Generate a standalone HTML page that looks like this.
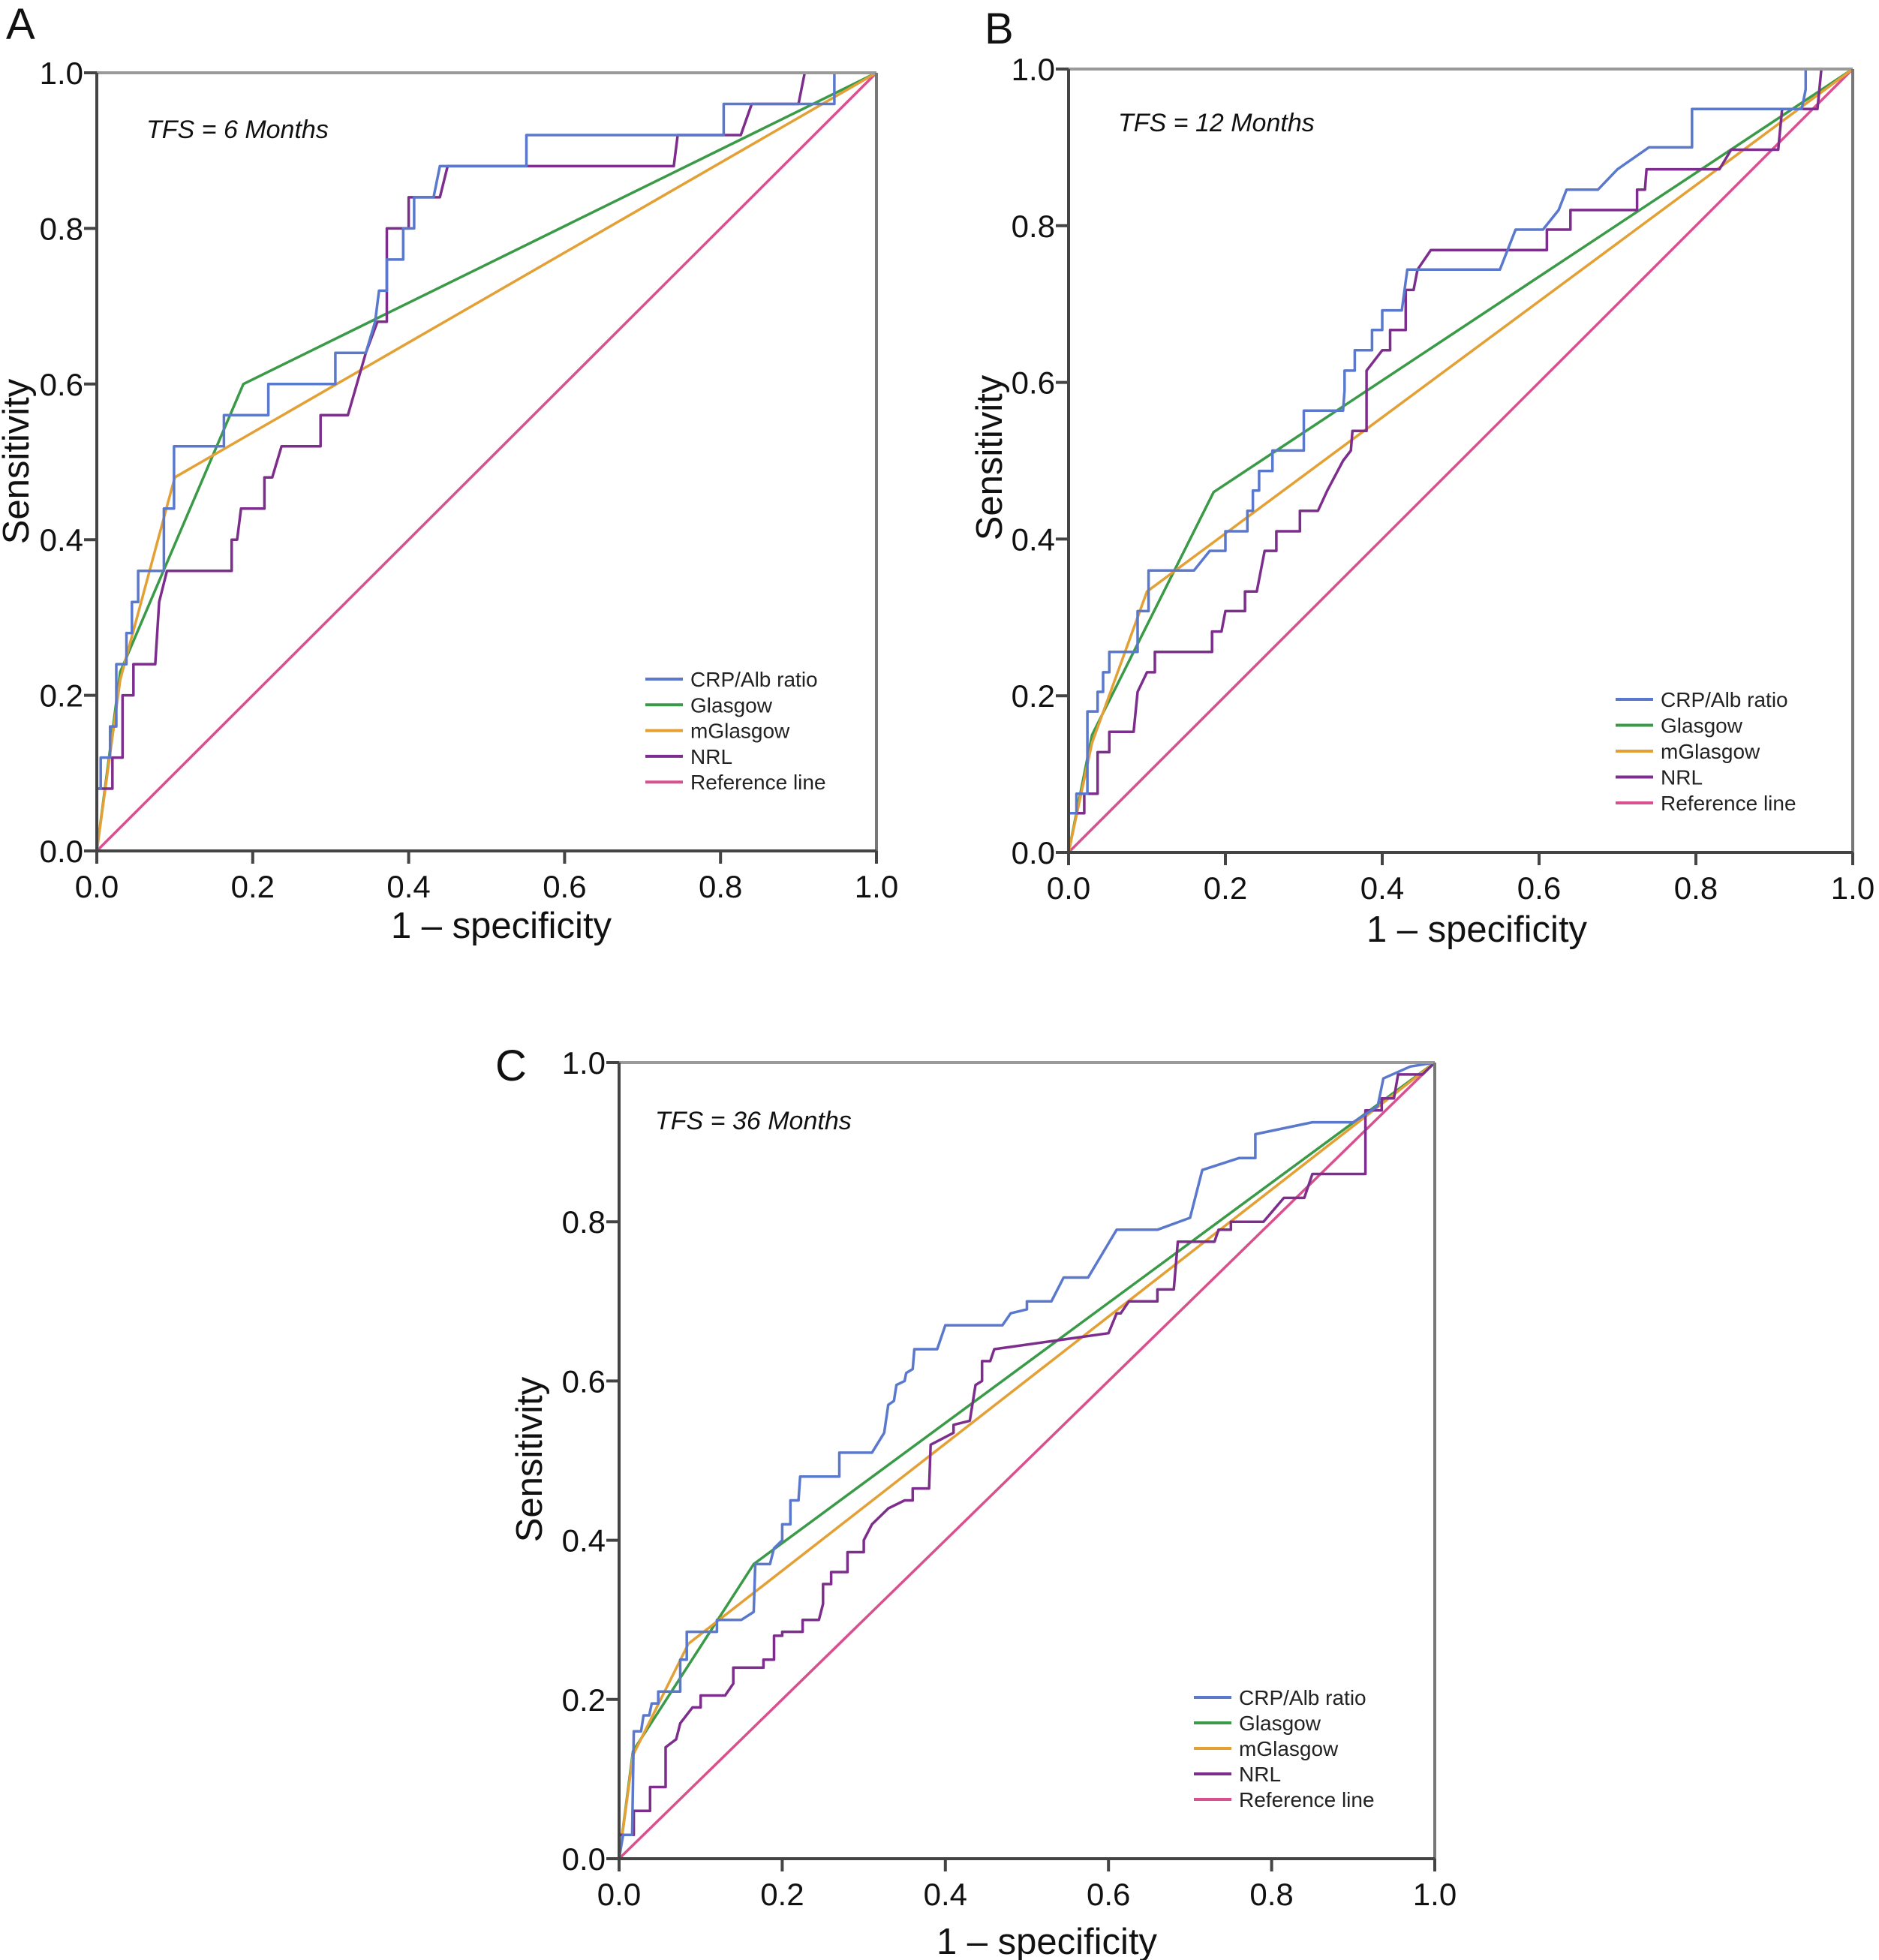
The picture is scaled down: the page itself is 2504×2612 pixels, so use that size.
<!DOCTYPE html>
<html><head><meta charset="utf-8"><style>
html,body{margin:0;padding:0;background:#fff;}
svg{display:block;font-family:"Liberation Sans",sans-serif;}
</style></head><body>
<svg id="fig" width="2504" height="2612" viewBox="0 0 2504 2612" xmlns="http://www.w3.org/2000/svg"></svg>
<script>
const ticks = [0, 0.2, 0.4, 0.6, 0.8, 1.0];
const tickLabels = ["0.0","0.2","0.4","0.6","0.8","1.0"];
const seriesNames = ["CRP/Alb ratio","Glasgow","mGlasgow","NRL","Reference line"];
const panelLabels = ["A","B","C"];
const panelTitles = ["TFS = 6 Months","TFS = 12 Months","TFS = 36 Months"];

const crpA = [[0,0],[0,0.08],[0.005,0.08],[0.005,0.12],[0.017,0.12],[0.017,0.16],[0.025,0.16],[0.025,0.24],[0.038,0.24],[0.038,0.28],[0.045,0.28],[0.045,0.32],[0.053,0.32],[0.053,0.36],[0.086,0.36],[0.086,0.44],[0.099,0.44],[0.099,0.52],[0.163,0.52],[0.163,0.56],[0.22,0.56],[0.22,0.6],[0.306,0.6],[0.306,0.64],[0.345,0.64],[0.357,0.68],[0.362,0.72],[0.372,0.72],[0.372,0.76],[0.393,0.76],[0.393,0.8],[0.407,0.8],[0.407,0.84],[0.432,0.84],[0.44,0.88],[0.551,0.88],[0.551,0.92],[0.804,0.92],[0.804,0.96],[0.946,0.96],[0.946,1],[1,1]];
const nrlA = [[0,0],[0,0.08],[0.02,0.08],[0.02,0.12],[0.033,0.12],[0.033,0.2],[0.047,0.2],[0.047,0.24],[0.075,0.24],[0.08,0.32],[0.09,0.36],[0.173,0.36],[0.173,0.4],[0.18,0.4],[0.185,0.44],[0.215,0.44],[0.215,0.48],[0.225,0.48],[0.237,0.52],[0.287,0.52],[0.287,0.56],[0.322,0.56],[0.345,0.64],[0.36,0.68],[0.372,0.68],[0.372,0.8],[0.4,0.8],[0.4,0.84],[0.44,0.84],[0.45,0.88],[0.74,0.88],[0.745,0.92],[0.826,0.92],[0.84,0.96],[0.9,0.96],[0.908,1],[1,1]];
const glasA = [[0,0],[0.03,0.23],[0.188,0.6],[1,1]];
const mglasA = [[0,0],[0.03,0.22],[0.1,0.48],[1,1]];

const crpB = [[0,0],[0,0.05],[0.01,0.05],[0.01,0.075],[0.024,0.075],[0.024,0.18],[0.037,0.18],[0.037,0.205],[0.044,0.205],[0.044,0.23],[0.052,0.23],[0.052,0.256],[0.088,0.256],[0.088,0.308],[0.102,0.308],[0.102,0.36],[0.16,0.36],[0.18,0.385],[0.2,0.385],[0.2,0.41],[0.228,0.41],[0.228,0.436],[0.235,0.436],[0.235,0.462],[0.243,0.462],[0.243,0.487],[0.26,0.487],[0.26,0.513],[0.3,0.513],[0.3,0.564],[0.35,0.564],[0.352,0.59],[0.352,0.615],[0.365,0.615],[0.365,0.641],[0.387,0.641],[0.387,0.667],[0.4,0.667],[0.4,0.692],[0.425,0.692],[0.432,0.744],[0.55,0.744],[0.57,0.795],[0.605,0.795],[0.625,0.82],[0.635,0.846],[0.675,0.846],[0.7,0.872],[0.74,0.9],[0.795,0.9],[0.795,0.949],[0.935,0.949],[0.94,0.974],[0.94,1],[1,1]];
const nrlB = [[0,0],[0,0.05],[0.02,0.05],[0.02,0.075],[0.037,0.075],[0.037,0.128],[0.052,0.128],[0.052,0.154],[0.083,0.154],[0.088,0.205],[0.1,0.23],[0.11,0.23],[0.11,0.256],[0.183,0.256],[0.183,0.282],[0.195,0.282],[0.2,0.308],[0.225,0.308],[0.225,0.333],[0.24,0.333],[0.25,0.385],[0.265,0.385],[0.265,0.41],[0.295,0.41],[0.295,0.436],[0.318,0.436],[0.33,0.462],[0.35,0.5],[0.36,0.513],[0.362,0.538],[0.38,0.538],[0.38,0.615],[0.4,0.641],[0.41,0.641],[0.41,0.667],[0.43,0.667],[0.43,0.718],[0.44,0.718],[0.445,0.744],[0.462,0.769],[0.61,0.769],[0.61,0.795],[0.64,0.795],[0.64,0.82],[0.725,0.82],[0.725,0.846],[0.735,0.846],[0.737,0.872],[0.83,0.872],[0.845,0.897],[0.905,0.897],[0.91,0.949],[0.955,0.949],[0.96,1],[1,1]];
const glasB = [[0,0],[0.03,0.15],[0.185,0.46],[1,1]];
const mglasB = [[0,0],[0.03,0.14],[0.1,0.333],[1,1]];

const crpC = [[0,0],[0.005,0.03],[0.016,0.03],[0.018,0.16],[0.027,0.16],[0.03,0.18],[0.037,0.18],[0.04,0.195],[0.048,0.195],[0.048,0.21],[0.075,0.21],[0.075,0.25],[0.083,0.25],[0.083,0.285],[0.12,0.285],[0.12,0.3],[0.15,0.3],[0.165,0.31],[0.167,0.37],[0.185,0.37],[0.19,0.39],[0.2,0.4],[0.2,0.42],[0.21,0.42],[0.21,0.45],[0.22,0.45],[0.222,0.48],[0.27,0.48],[0.27,0.51],[0.31,0.51],[0.325,0.535],[0.33,0.57],[0.337,0.575],[0.34,0.595],[0.35,0.6],[0.352,0.61],[0.36,0.615],[0.362,0.64],[0.39,0.64],[0.4,0.67],[0.47,0.67],[0.48,0.685],[0.5,0.69],[0.5,0.7],[0.53,0.7],[0.545,0.73],[0.575,0.73],[0.61,0.79],[0.66,0.79],[0.7,0.805],[0.715,0.865],[0.76,0.88],[0.78,0.88],[0.78,0.91],[0.85,0.925],[0.9,0.925],[0.93,0.945],[0.937,0.98],[0.97,0.995],[1,1]];
const nrlC = [[0,0],[0,0.03],[0.018,0.03],[0.018,0.06],[0.038,0.06],[0.038,0.09],[0.057,0.09],[0.057,0.14],[0.07,0.15],[0.075,0.17],[0.09,0.19],[0.1,0.19],[0.1,0.205],[0.13,0.205],[0.14,0.22],[0.14,0.24],[0.177,0.24],[0.177,0.25],[0.19,0.25],[0.19,0.28],[0.2,0.28],[0.2,0.285],[0.225,0.285],[0.225,0.3],[0.245,0.3],[0.25,0.32],[0.25,0.345],[0.26,0.345],[0.26,0.36],[0.28,0.36],[0.28,0.385],[0.3,0.385],[0.3,0.4],[0.31,0.42],[0.33,0.44],[0.35,0.45],[0.36,0.45],[0.36,0.465],[0.38,0.465],[0.382,0.52],[0.41,0.535],[0.41,0.545],[0.43,0.55],[0.437,0.595],[0.445,0.6],[0.445,0.625],[0.455,0.625],[0.46,0.64],[0.6,0.66],[0.61,0.685],[0.615,0.685],[0.625,0.7],[0.66,0.7],[0.66,0.715],[0.68,0.715],[0.685,0.775],[0.73,0.775],[0.735,0.79],[0.75,0.79],[0.75,0.8],[0.79,0.8],[0.815,0.83],[0.84,0.83],[0.85,0.86],[0.915,0.86],[0.915,0.94],[0.935,0.94],[0.935,0.955],[0.95,0.955],[0.955,0.985],[0.985,0.985],[1,1]];
const glasC = [[0,0],[0.017,0.135],[0.165,0.37],[1,1]];
const mglasC = [[0,0],[0.017,0.13],[0.085,0.27],[1,1]];

const refLine = [[0,0],[1,1]];
const colors = ["#5a78cc","#3a9a48","#e3a035","#7d2e8c","#d8508e"];

const svg = document.getElementById('fig');
const NS = 'http://www.w3.org/2000/svg';
function mk(tag, attrs, parent){
  const e = document.createElementNS(NS, tag);
  for (const k in attrs) e.setAttribute(k, attrs[k]);
  (parent||svg).appendChild(e);
  return e;
}

const panels = [
  {L:129,R:1168,T:97,B:1134,lab:[8,52],tfs:[195,184],leg:[860,905,34.3],xt:[668,1250],yt:[38,615],data:[crpA,glasA,mglasA,nrlA]},
  {L:1424,R:2469,T:92,B:1136,lab:[1312,58],tfs:[1490,175],leg:[2153,932,34.5],xt:[1968,1255],yt:[1335,610],data:[crpB,glasB,mglasB,nrlB]},
  {L:825,R:1912,T:1416,B:2477,lab:[660,1440],tfs:[873,1505],leg:[1591,2262,34],xt:[1395,2604],yt:[722,1945],data:[crpC,glasC,mglasC,nrlC]}
];

panels.forEach((p, i) => {
  const g = mk('g', {});
  
  
  const xs = v => p.L + v * (p.R - p.L);
  const ys = v => p.B - v * (p.B - p.T);

  const lbl = mk('text', {x:p.lab[0], y:p.lab[1], 'font-size':58, fill:'#111'}, g);
  lbl.textContent = panelLabels[i];
  
  

  const all = p.data.concat([refLine]);
  const order = [4,1,2,3,0];
  order.forEach(si => {
    const pts = all[si].map(d => xs(d[0]).toFixed(1) + ',' + ys(d[1]).toFixed(1)).join(' ');
    const pl = mk('polyline', {points:pts, fill:'none', stroke:colors[si], 'stroke-width':3.5, 'stroke-linejoin':'round'}, g);
    
    
  });

  mk('line', {x1:p.L, y1:p.T, x2:p.R, y2:p.T, stroke:'#9a9a9a', 'stroke-width':4}, g);
  mk('line', {x1:p.R, y1:p.T, x2:p.R, y2:p.B, stroke:'#777', 'stroke-width':4}, g);
  const xa = mk('line', {x1:p.L, y1:p.B, x2:p.R, y2:p.B, stroke:'#444', 'stroke-width':4}, g);
  
  
  const ya = mk('line', {x1:p.L, y1:p.T, x2:p.L, y2:p.B, stroke:'#444', 'stroke-width':4}, g);
  
  

  ticks.forEach((t, k) => {
    mk('line', {x1:xs(t), y1:p.B, x2:xs(t), y2:p.B+17, stroke:'#444', 'stroke-width':4}, g);
    mk('line', {x1:p.L-17, y1:ys(t), x2:p.L, y2:ys(t), stroke:'#444', 'stroke-width':4}, g);
    const xl = mk('text', {x:xs(t), y:p.B+62, 'font-size':42, 'text-anchor':'middle', fill:'#111'}, g);
    xl.textContent = tickLabels[k];
    
    
    const yl = mk('text', {x:p.L-18, y:ys(t)+15, 'font-size':42, 'text-anchor':'end', fill:'#111'}, g);
    yl.textContent = tickLabels[k];
    
    
  });

  const xt = mk('text', {x:p.xt[0], y:p.xt[1], 'font-size':49, 'text-anchor':'middle', fill:'#111'}, g);
  xt.textContent = '1 \u2013 specificity';
  
  
  const yt = mk('text', {x:0, y:0, 'font-size':49, 'text-anchor':'middle', fill:'#111', transform:'translate(' + p.yt[0] + ',' + p.yt[1] + ') rotate(-90)'}, g);
  yt.textContent = 'Sensitivity';
  
  

  const tf = mk('text', {x:p.tfs[0], y:p.tfs[1], 'font-size':34, 'font-style':'italic', fill:'#111'}, g);
  tf.textContent = panelTitles[i];
  
  

  const lg = mk('g', {}, g);
  
  
  seriesNames.forEach((n, k) => {
    const yy = p.leg[1] + k * p.leg[2];
    mk('line', {x1:p.leg[0], y1:yy, x2:p.leg[0]+50, y2:yy, stroke:colors[k], 'stroke-width':4}, lg);
    const tx = mk('text', {x:p.leg[0]+60, y:yy+10, 'font-size':28, fill:'#222'}, lg);
    tx.textContent = n;
    
    
  });
});
</script>
</body></html>
